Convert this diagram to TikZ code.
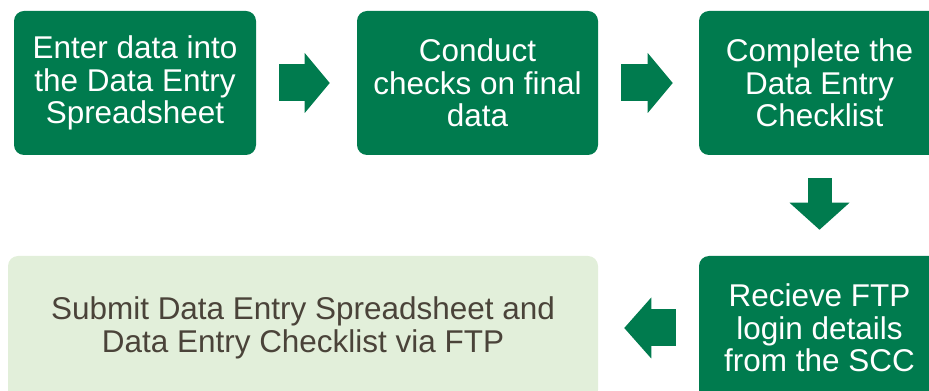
\documentclass[tikz,border=0pt]{standalone}
\usepackage{fontspec}
\setmainfont{Liberation Sans}
\usetikzlibrary{arrows.meta}
\definecolor{sccgreen}{RGB}{0,123,78}
\definecolor{palegreen}{RGB}{226,239,218}
\definecolor{darktext}{RGB}{74,67,57}
\tikzset{
  greenbox/.style = {rectangle,rounded corners=7.5pt,fill=sccgreen,text=white,
                     minimum width=181.5pt,minimum height=108pt,align=center,
                     font=\fontsize{23.6pt}{24.4pt}\selectfont},
  palebox/.style  = {greenbox,fill=palegreen,text=darktext,minimum width=442.5pt},
  blockarr/.style = {sccgreen,line width=27.75pt,
                     -{Triangle[length=18.75pt,width=45pt,line width=0pt]},
                     shorten <=17.25pt,shorten >=20.25pt},
  downarr/.style  = {sccgreen,line width=18pt,
                     -{Triangle[length=20.25pt,width=45pt,line width=0pt]},
                     shorten <=17.25pt,shorten >=19.5pt}
}

\begin{document}
\begin{tikzpicture}[x=0.75pt,y=-0.75pt]
  \useasboundingbox (0,0) rectangle (929,391);
  \clip (0,0) rectangle (929,391);
  \node[greenbox] (enter)   at (135,83)    {Enter data into\\the Data Entry\\Spreadsheet};
  \node[greenbox,minimum width=180.75pt] (checks) at (477.5,83) {Conduct\\checks on final\\data};
  \node[greenbox,minimum width=180.75pt] (list)   at (819.5,83) {Complete the\\Data Entry\\Checklist};
  \node[greenbox,minimum width=180.75pt] (ftp)    at (819.5,328) {Recieve FTP\\login details\\from the SCC};
  \node[palebox] (submit) at (303,328) {Submit Data Entry Spreadsheet and\\Data Entry Checklist via FTP};
  \draw[blockarr] (enter.east) -- (checks.west);
  \draw[blockarr,shorten >=19.5pt] (checks.east) -- (list.west);
  \draw[downarr] (list.south) -- (ftp.north);
  \draw[blockarr,-{Triangle[length=20.25pt,width=45.75pt,line width=0pt]},shorten >=19.5pt] (ftp.west) -- (submit.east);
\end{tikzpicture}
\end{document}
